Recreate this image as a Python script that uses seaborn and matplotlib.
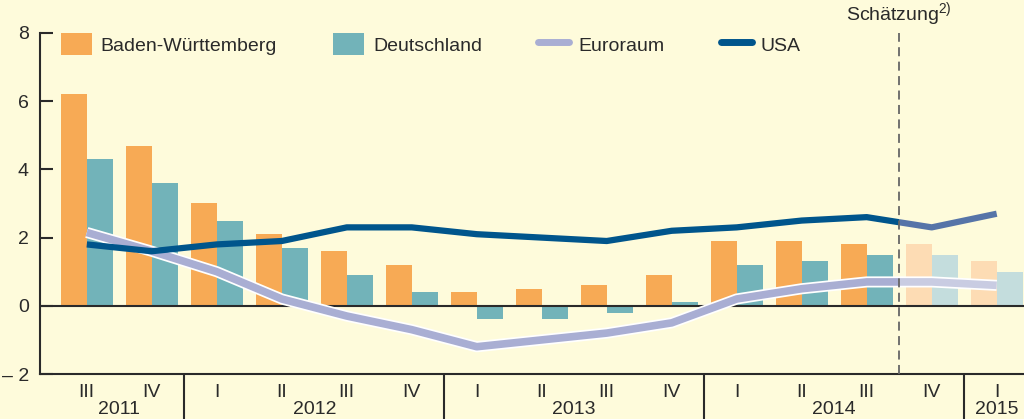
import pandas as pd
import numpy as np
import matplotlib.pyplot as plt
import matplotlib.patheffects as pe
from matplotlib.patches import Rectangle
from matplotlib.lines import Line2D
from matplotlib.transforms import blended_transform_factory
import seaborn as sns

# data
quarters = ['III', 'IV', 'I', 'II', 'III', 'IV', 'I', 'II', 'III', 'IV',
            'I', 'II', 'III', 'IV', 'I']
years = ['2011', '2012', '2013', '2014', '2015']
year_spans = [(0, 1), (2, 5), (6, 9), (10, 13), (14, 14)]
bw = [6.2, 4.7, 3.0, 2.1, 1.6, 1.2, 0.4, 0.5, 0.6, 0.9, 1.9, 1.9, 1.8, 1.8, 1.3]
de = [4.3, 3.6, 2.5, 1.7, 0.9, 0.4, -0.4, -0.4, -0.2, 0.1, 1.2, 1.3, 1.5, 1.5, 1.0]
euro = [2.15, 1.6, 1.0, 0.2, -0.3, -0.7, -1.2, -1.0, -0.8, -0.5, 0.2, 0.5, 0.7, 0.7, 0.6]
usa = [1.8, 1.6, 1.8, 1.9, 2.3, 2.3, 2.1, 2.0, 1.9, 2.2, 2.3, 2.5, 2.6, 2.3, 2.7]
ytick_vals = [-2, 0, 2, 4, 6, 8]
ytick_labels = ['\u2013 2', '0', '2', '4', '6', '8']
estimate_from = 12.5

BG = '#FEFBDB'
ORANGE, ORANGE_L = '#F7AA55', '#FDDCB4'
TEAL, TEAL_L = '#72B3B9', '#C4DDDD'
EURO, EURO_L = '#A9AED3', '#C9CCE2'
USA_C, USA_L = '#00558C', '#5674A8'
DARK = '#2a2a2a'
FS = 14

sns.set_theme(style='white')
plt.rcParams['font.family'] = ['Liberation Sans', 'DejaVu Sans']

idx = list(range(len(quarters)))
df = pd.DataFrame({
    'q': idx * 2,
    'val': bw + de,
    'reg': ['Baden-Württemberg'] * len(bw) + ['Deutschland'] * len(de),
})

fig = plt.figure(figsize=(10.24, 4.19), dpi=100, facecolor=BG)
ax = fig.add_axes([40 / 1024, 45 / 419, 1 - 40 / 1024, (374 - 33) / 419])
ax.set_facecolor(BG)

sns.barplot(data=df, x='q', y='val', hue='reg', order=idx,
            palette=[ORANGE, TEAL], width=0.8, saturation=1, ax=ax,
            legend=False, linewidth=0, native_scale=True)

# lighter colours for the estimate period
for p in ax.patches:
    cx = p.get_x() + p.get_width() / 2
    if cx > estimate_from:
        p.set_facecolor(ORANGE_L if cx < np.round(cx) else TEAL_L)

ax.axhline(0, color=DARK, lw=1.5, zorder=3)

clip_old = Rectangle((-1, -5), estimate_from + 1, 20, transform=ax.transData)
clip_new = Rectangle((estimate_from, -5), 10, 20, transform=ax.transData)

for vals, c_old, c_new, lw, border in [(euro, EURO, EURO_L, 5.5, True),
                                        (usa, USA_C, USA_L, 4.5, False)]:
    for col, clip in [(c_old, clip_old), (c_new, clip_new)]:
        sns.lineplot(x=idx, y=vals, color=col, lw=lw, ax=ax, zorder=4,
                     solid_capstyle='butt')
        ln = ax.lines[-1]
        ln.set_clip_path(clip)
        if border:
            ln.set_path_effects([pe.Stroke(linewidth=lw + 2.5, foreground='white'),
                                 pe.Normal()])

ax.set_xlim(-0.72, 14.42)
ax.set_ylim(-2, 8)
ax.set_yticks(ytick_vals)
ax.set_yticklabels(ytick_labels, fontsize=FS, color=DARK)
ax.tick_params(axis='y', direction='in', length=9, width=1.5, color=DARK, pad=8, left=True)
ax.set_xticks(idx)
ax.set_xticklabels(quarters, fontsize=FS, color=DARK)
ax.tick_params(axis='x', length=0, pad=7)
ax.set_xlabel('')
ax.set_ylabel('')
for s in ['top', 'right']:
    ax.spines[s].set_visible(False)
for s in ['left', 'bottom']:
    ax.spines[s].set_color(DARK)
    ax.spines[s].set_linewidth(1.5)

tr = blended_transform_factory(ax.transData, ax.transAxes)

# estimate divider
ax.plot([estimate_from, estimate_from], [-2, 8], color='#666666', lw=1.3,
        ls=(0, (5, 3)), zorder=5, clip_on=False)
ax.text(estimate_from, 1.035, 'Schätzung$^{\\mathregular{2)}}$', fontsize=FS, color=DARK,
        ha='center', va='baseline', transform=tr)

# year separators and labels
for yr, (a, b) in zip(years, year_spans):
    ax.text((a + b) / 2, -0.105, yr, fontsize=FS, color=DARK, ha='center', va='center',
            transform=tr)
    if a > 0:
        ax.add_line(Line2D([a - 0.5, a - 0.5], [0, -0.14], transform=tr, color=DARK,
                           lw=1.5, clip_on=False))

handles = [Rectangle((0, 0), 1, 1, fc=ORANGE, lw=0),
           Rectangle((0, 0), 1, 1, fc=TEAL, lw=0),
           Line2D([], [], color=EURO, lw=5),
           Line2D([], [], color=USA_C, lw=5)]
labels = ['Baden-Württemberg', 'Deutschland', 'Euroraum', 'USA']
leg = fig.legend(handles, labels, loc='center left', bbox_to_anchor=(43 / 1024, 1 - 44 / 419),
                 ncol=4, frameon=False, fontsize=FS, handlelength=1.6, handleheight=1.3,
                 handletextpad=0.45, columnspacing=2.9, labelcolor=DARK)

fig.savefig('out.png', dpi=100, facecolor=BG)
